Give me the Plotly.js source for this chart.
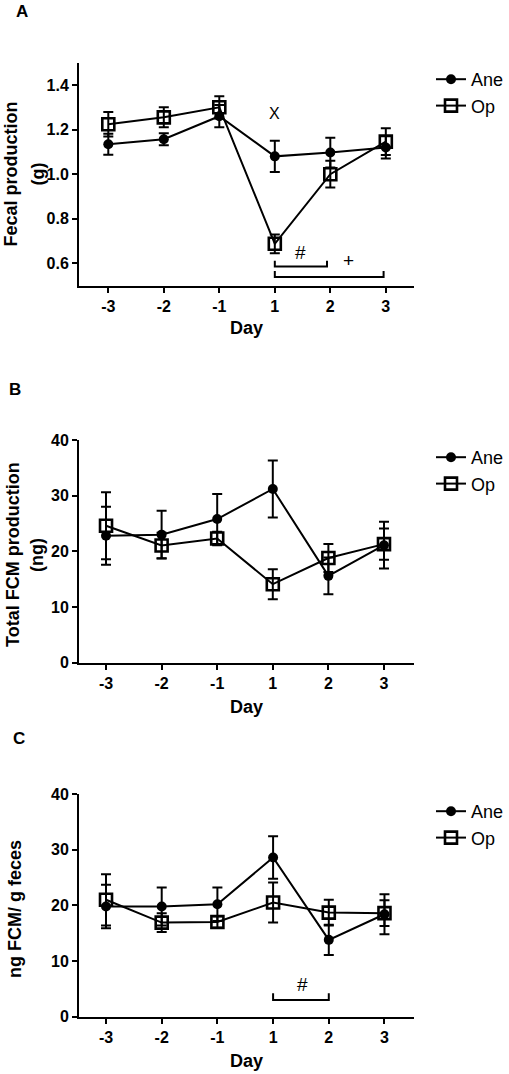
<!DOCTYPE html>
<html><head><meta charset="utf-8">
<script src="https://cdn.plot.ly/plotly-3.0.1.min.js"></script>
<style>html,body{margin:0;padding:0;background:#fff;} #chart{width:509px;height:1074px;}</style>
</head><body><div id="chart"></div>
<script>
// ---- data ----
const days = ['-3', '-2', '-1', '1', '2', '3'];
const seriesNames = ['Ane', 'Op'];

const fecalAne = [1.134, 1.157, 1.26, 1.08, 1.097, 1.12];
const fecalAneErr = [0.047, 0.027, 0.05, 0.07, 0.067, 0.05];
const fecalOp = [1.224, 1.255, 1.30, 0.688, 1.0, 1.146];
const fecalOpErr = [0.055, 0.045, 0.05, 0.042, 0.06, 0.06];

const totalAne = [22.8, 23.0, 25.8, 31.2, 15.6, 21.1];
const totalAneErr = [5.2, 4.3, 4.5, 5.1, 3.3, 4.2];
const totalOp = [24.6, 21.05, 22.3, 14.1, 18.8, 21.3];
const totalOpErr = [6.0, 2.3, 1.2, 2.7, 2.5, 2.8];

const perGAne = [19.8, 19.8, 20.2, 28.6, 13.8, 18.4];
const perGAneErr = [3.9, 3.4, 3.0, 3.8, 2.7, 3.6];
const perGOp = [21.0, 16.9, 17.0, 20.5, 18.7, 18.6];
const perGOpErr = [4.6, 1.7, 1.0, 3.6, 2.3, 2.3];

const panelLabels = ['A', 'B', 'C'];
const yTitles = [['Fecal production', '(g)'], ['Total FCM production', '(ng)'], ['ng FCM/ g feces']];
const xTitle = 'Day';

// significance marks: [text, day index, value, font size]
const sigA = [['X', 3, 1.27, 16], ['#', 3.46, 0.651, 19], ['+', 4.32, 0.612, 19]];
const sigB = [['*', 3, 40.2, 19]];
const sigC = [['#', 3.53, 5.7, 19]];
// brackets: [from day index, to day index, line value, tip value]
const bracketsA = [[3, 3.94, 0.586, 0.612], [3, 4.96, 0.539, 0.566]];
const bracketsC = [[3, 4.0, 3.0, 4.2]];

// ---- build ----
const W = 509, H = 1074;
const FONT = 'Liberation Sans, Arial, sans-serif';
const idx = days.map((d, i) => i);
const xDom = [79 / W, 414 / W];
const yDoms = [[1 - 285.7 / H, 1 - 62.7 / H], [1 - 662.7 / H, 1 - 440 / H], [1 - 1016.7 / H, 1 - 794 / H]];
const xRanges = [[-0.528, 5.508], [-0.486, 5.54], [-0.485, 5.53]];
const yRanges = [[0.5, 1.5], [0, 40], [0, 40]];
const yTicks = [[0.6, 0.8, 1.0, 1.2, 1.4], [0, 10, 20, 30, 40], [0, 10, 20, 30, 40]];
const yFmt = ['.1f', 'd', 'd'];

const panels = [
  [fecalAne, fecalAneErr, fecalOp, fecalOpErr],
  [totalAne, totalAneErr, totalOp, totalOpErr],
  [perGAne, perGAneErr, perGOp, perGOpErr]
];

const traces = [];
const layout = {
  width: W, height: H,
  margin: {l: 0, r: 0, t: 0, b: 0},
  paper_bgcolor: '#fff', plot_bgcolor: '#fff',
  font: {family: FONT, color: '#000'},
  annotations: [], shapes: []
};

const legendTops = [61, 439, 793];

panels.forEach((p, k) => {
  const n = k === 0 ? '' : String(k + 1);
  const xa = 'x' + n, ya = 'y' + n;
  const lg = 'legend' + n;
  [[p[0], p[1], 'circle', 10, 0], [p[2], p[3], 'square-open', 12, 2.6]].forEach((s, j) => {
    traces.push({
      type: 'scatter', mode: 'lines+markers',
      x: idx, y: s[0], name: seriesNames[j],
      xaxis: xa, yaxis: ya, legend: lg,
      line: {color: '#000', width: 2},
      marker: {symbol: s[2], size: s[3], color: '#000', line: {color: '#000', width: s[4]}},
      error_y: {type: 'data', array: s[1], visible: true, color: '#000', thickness: 2, width: 5},
      cliponaxis: false
    });
  });
  const tf = {family: FONT, size: 16, weight: 'bold', color: '#000'};
  layout['xaxis' + n] = {
    domain: xDom, anchor: ya, range: xRanges[k],
    tickvals: idx, ticktext: days,
    showline: true, linewidth: 2, linecolor: '#000',
    ticks: 'outside', ticklen: 5, tickwidth: 2, tickcolor: '#000',
    showgrid: false, zeroline: false, fixedrange: true, tickfont: tf
  };
  layout['yaxis' + n] = {
    domain: yDoms[k], anchor: xa, range: yRanges[k],
    tickvals: yTicks[k], tickformat: yFmt[k],
    showline: true, linewidth: 2, linecolor: '#000',
    ticks: 'outside', ticklen: 5, tickwidth: 2, tickcolor: '#000',
    showgrid: false, zeroline: false, fixedrange: true, tickfont: tf
  };
  layout[lg] = {
    x: 431 / W, xanchor: 'left', y: 1 - legendTops[k] / H, yanchor: 'top',
    bgcolor: 'rgba(0,0,0,0)', borderwidth: 0,
    font: {family: FONT, size: 18, color: '#000'}
  };
});

// text annotations
const A = layout.annotations;
const labelPos = [[22, 11], [15, 389], [19, 738.5]];
panelLabels.forEach((t, k) => A.push({xref: 'paper', yref: 'paper', x: labelPos[k][0] / W, y: 1 - labelPos[k][1] / H,
  text: t, showarrow: false, xanchor: 'center', yanchor: 'middle', font: {family: FONT, size: 17, weight: 'bold'}}));
const dayY = [328, 707, 1061];
dayY.forEach(y => A.push({xref: 'paper', yref: 'paper', x: 246.5 / W, y: 1 - y / H, text: xTitle, showarrow: false,
  xanchor: 'center', yanchor: 'middle', font: {family: FONT, size: 18, weight: 'bold'}}));
const yTitlePos = [[[10, 174.5], [37, 174.5]], [[13, 555], [37, 555]], [[15, 909]]];
yTitles.forEach((lines, k) => lines.forEach((t, j) => A.push({xref: 'paper', yref: 'paper',
  x: yTitlePos[k][j][0] / W, y: 1 - yTitlePos[k][j][1] / H, text: t, textangle: -90, showarrow: false,
  xanchor: 'center', yanchor: 'middle', font: {family: FONT, size: 18, weight: 'bold'}})));
[[sigA, ''], [sigB, '2'], [sigC, '3']].forEach(([arr, n]) => arr.forEach(s => A.push({xref: 'x' + n, yref: 'y' + n,
  x: s[1], y: s[2], text: s[0], showarrow: false, xanchor: 'center', yanchor: 'middle', font: {family: FONT, size: s[3]}})));
[[bracketsA, ''], [bracketsC, '3']].forEach(([arr, n]) => arr.forEach(b => layout.shapes.push({type: 'path', xref: 'x' + n, yref: 'y' + n,
  path: `M ${b[0]},${b[3]} L ${b[0]},${b[2]} L ${b[1]},${b[2]} L ${b[1]},${b[3]}`, line: {color: '#000', width: 2}})));

Plotly.newPlot('chart', traces, layout, {displayModeBar: false, staticPlot: true});
</script></body></html>
